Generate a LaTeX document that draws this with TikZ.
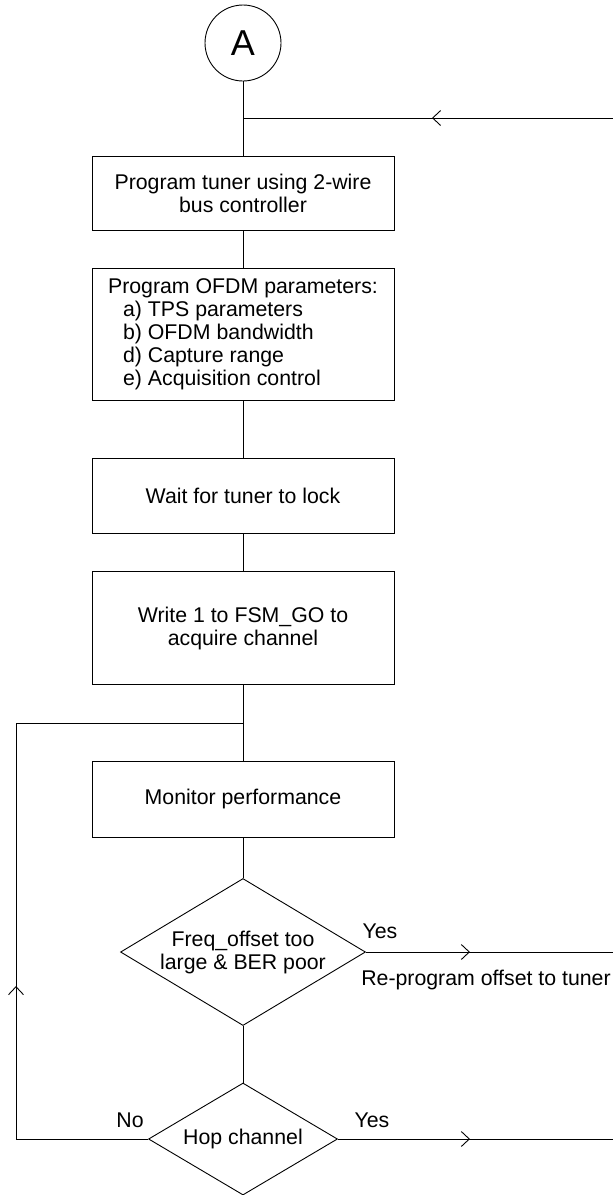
\documentclass[tikz,border=0pt]{standalone}
\usepackage{fontspec}
\setmainfont{Liberation Sans}
\usepackage{tikz}
\usetikzlibrary{arrows.meta,positioning,shapes,decorations.markings,calc}

\begin{document}
\begin{tikzpicture}[x=1pt, y=-1pt, line width=0.9pt,
  every node/.style={font=\fontsize{21.3}{23}\selectfont},
  procbox/.style={draw, rectangle, minimum width=302pt, inner sep=0pt, align=center},
  decide/.style={draw, diamond, aspect=1.67, inner sep=0pt, align=center},
  barb/.style={postaction={decorate}, decoration={markings, mark=at position #1 with {\arrow{Straight Barb[length=8pt,width=15pt]}}}}]
\useasboundingbox (0,0) rectangle (613,1195);
% entry point and the steps
\node[draw, circle, minimum size=76pt, inner sep=0pt, font=\fontsize{36}{40}\selectfont] (entryA) at (243,43) {A};
\node[procbox, minimum height=74pt] (tuner) at (243,193) {Program tuner using 2-wire\\bus controller};
\node[procbox, minimum height=132pt, align=left] (ofdm) at (243,334) {Program OFDM parameters:\\
  \hspace*{15pt}a) TPS parameters\\ \hspace*{15pt}b) OFDM bandwidth\\
  \hspace*{15pt}d) Capture range\\ \hspace*{15pt}e) Acquisition control};
\node[procbox, minimum height=75pt] (lock) at (243,496) {Wait for tuner to lock};
\node[procbox, minimum height=113pt] (acquire) at (243,628) {Write 1 to FSM\_GO to\\acquire channel};
\node[procbox, minimum height=76pt] (monitor) at (243,799) {Monitor performance};
\node[decide, minimum width=245pt, minimum height=147pt] (freq) at (243,952) {Freq\_offset too\\large \& BER poor};
\node[decide, minimum width=189pt, minimum height=112pt] (hop) at (243,1139) {Hop channel};
% joints and loose ends
\coordinate (topJ) at (243,118); \coordinate (topR) at (613,118);
\coordinate (loopJ) at (243,723); \coordinate (loopL) at (16,723);
\coordinate (freqR) at (613,952); \coordinate (hopR) at (613,1139);
% connectors
\draw (entryA) -- (tuner);
\draw[barb=181pt] (topR) -- (topJ);
\draw (tuner) -- (ofdm);
\draw (ofdm) -- (lock);
\draw (lock) -- (acquire);
\draw (acquire) -- (monitor);
\draw (monitor) -- (freq);
\draw (freq) -- (hop);
\draw[barb=104pt] (freq.east) -- (freqR);
\draw[barb=132pt] (hop.east) -- (hopR);
\draw[barb=285pt] (hop.west) -| (loopL) -- (loopJ);
% labels
\node (yesFreq) at (380,931) {Yes};
\node (reprog) at (486,980) {Re-program offset to tuner};
\node (noHop) at (130,1120) {No};
\node (yesHop) at (372,1120) {Yes};
\end{tikzpicture}
\end{document}
